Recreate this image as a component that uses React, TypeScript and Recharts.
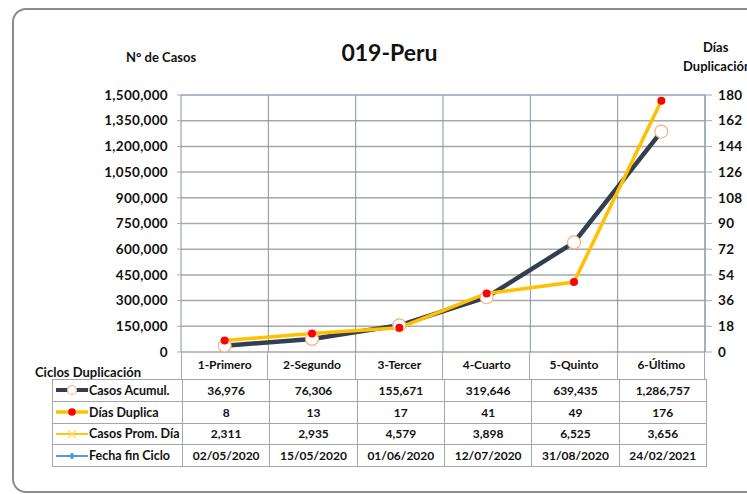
import React from 'react';
import { ComposedChart, Line, XAxis, YAxis, CartesianGrid, ReferenceLine } from 'recharts';

const categories = ['1-Primero', '2-Segundo', '3-Tercer', '4-Cuarto', '5-Quinto', '6-Último'];
const casosAcumul = [36976, 76306, 155671, 319646, 639435, 1286757];
const diasDuplica = [8, 13, 17, 41, 49, 176];
const casosPromDia = [2311, 2935, 4579, 3898, 6525, 3656];
const fechaFinCiclo = ['02/05/2020', '15/05/2020', '01/06/2020', '12/07/2020', '31/08/2020', '24/02/2021'];
const leftTicks = [0, 150000, 300000, 450000, 600000, 750000, 900000, 1050000, 1200000, 1350000, 1500000];
const rightTicks = [0, 18, 36, 54, 72, 90, 108, 126, 144, 162, 180];

const data = categories.map((c, i) => ({ cat: c, casos: casosAcumul[i], dias: diasDuplica[i] }));

const FONT = 'Lato, Carlito, Calibri, "Open Sans", sans-serif';
const fmt = (v: number) => v.toLocaleString('en-US');

const tickStyle = { fill: '#111', fontSize: 12, fontWeight: 700, fontFamily: FONT };
const axisTickStyle = { fill: '#111', fontSize: 13.5, fontWeight: 700, fontFamily: FONT, letterSpacing: 0.3 };

const KeyCasos = () => (
  <svg width={34} height={12}>
    <line x1={1} y1={6} x2={33} y2={6} stroke="#333f50" strokeWidth={4} />
    <circle cx={17} cy={6} r={4.5} fill="#fff" stroke="#f4b183" strokeWidth={1.2} />
  </svg>
);
const KeyDias = () => (
  <svg width={34} height={12}>
    <line x1={1} y1={6} x2={33} y2={6} stroke="#ffc000" strokeWidth={3.5} />
    <circle cx={17} cy={6} r={3.8} fill="#ff0000" />
  </svg>
);
const KeyProm = () => (
  <svg width={34} height={12}>
    <line x1={1} y1={6} x2={33} y2={6} stroke="#ffc000" strokeWidth={1.8} />
    <line x1={13} y1={2} x2={21} y2={10} stroke="#ffd966" strokeWidth={1.2} />
    <line x1={13} y1={10} x2={21} y2={2} stroke="#ffd966" strokeWidth={1.2} />
  </svg>
);
const KeyFecha = () => (
  <svg width={34} height={12}>
    <line x1={1} y1={6} x2={33} y2={6} stroke="#5b9bd5" strokeWidth={2} />
    <polygon points="17,2.5 20.5,6 17,9.5 13.5,6" fill="#5b9bd5" />
  </svg>
);

const rows: { key: React.ReactNode; label: string; values: string[] }[] = [
  { key: <KeyCasos />, label: 'Casos Acumul.', values: casosAcumul.map(fmt) },
  { key: <KeyDias />, label: 'Días Duplica', values: diasDuplica.map(fmt) },
  { key: <KeyProm />, label: 'Casos Prom. Día', values: casosPromDia.map(fmt) },
  { key: <KeyFecha />, label: 'Fecha fin Ciclo', values: fechaFinCiclo },
];

const BORDER = '1px solid #a6a6a6';

export default function App() {
  const colW = 524 / 6;
  return (
    <div style={{ position: 'absolute', left: 0, top: 0, width: 747, height: 494, overflow: 'hidden', background: '#fff', fontFamily: FONT }}>
      <div style={{ position: 'absolute', left: 12, top: 8, width: 800, height: 485, border: '2px solid #8c8c8c', borderRadius: 14, boxSizing: 'border-box' }} />
      <div style={{ position: 'absolute', left: 0, top: 0 }}>
        <ComposedChart width={747} height={494} data={data} margin={{ top: 95, right: 0, bottom: 115, left: 0 }}>
          <CartesianGrid
            yAxisId="left"
            horizontal={true}
            vertical={false}
            stroke="#a9a9a9"
            strokeWidth={1.5}
          />
          <CartesianGrid
            yAxisId="left"
            horizontal={false}
            vertical={true}
            stroke="#8793a8"
            strokeWidth={1}
            verticalCoordinatesGenerator={({ offset }: any) =>
              categories.map((_, i) => offset.left + (i * offset.width) / categories.length).concat([offset.left + offset.width])
            }
          />
          <XAxis
            dataKey="cat"
            scale="band"
            height={27}
            axisLine={false}
            tickLine={false}
            tickSize={0}
            tickMargin={8}
            tick={tickStyle}
            interval={0}
          />
          <YAxis
            yAxisId="left"
            width={181}
            domain={[0, 1500000]}
            ticks={leftTicks}
            tickFormatter={fmt}
            axisLine={false}
            tickLine={{ stroke: '#a9a9a9' }}
            tickSize={4}
            tickMargin={9}
            tick={axisTickStyle}
            interval={0}
          />
          <YAxis
            yAxisId="right"
            orientation="right"
            width={42}
            domain={[0, 180]}
            ticks={rightTicks}
            axisLine={{ stroke: '#8497b0' }}
            tickLine={{ stroke: '#a9a9a9' }}
            tickSize={7}
            tickMargin={6}
            tick={{ ...axisTickStyle, textAnchor: 'start' }}
            interval={0}
          />
          <ReferenceLine yAxisId="left" y={1500000} stroke="#95b3d7" strokeWidth={1.2} />
          <Line
            yAxisId="left"
            dataKey="casos"
            stroke="#333f50"
            strokeWidth={4.5}
            dot={{ r: 6.5, fill: '#fff', stroke: '#f4b183', strokeWidth: 1.2 }}
            isAnimationActive={false}
          />
          <Line
            yAxisId="right"
            dataKey="dias"
            stroke="#ffc000"
            strokeWidth={3.5}
            dot={{ r: 4, fill: '#ff0000', stroke: 'none' }}
            isAnimationActive={false}
          />
        </ComposedChart>
      </div>

      <div style={{ position: 'absolute', left: 0, top: 39, width: 779, textAlign: 'center', fontSize: 23, fontWeight: 700, color: '#111', lineHeight: '26px' }}>019-Peru</div>
      <div style={{ position: 'absolute', left: 126, top: 49, fontSize: 13, fontWeight: 700, color: '#111', lineHeight: '16px', whiteSpace: 'nowrap' }}>N° de Casos</div>
      <div style={{ position: 'absolute', left: 703, top: 39, fontSize: 13, fontWeight: 700, color: '#111', lineHeight: '16px', whiteSpace: 'nowrap' }}>Días</div>
      <div style={{ position: 'absolute', left: 683, top: 58, fontSize: 13, fontWeight: 700, color: '#111', lineHeight: '16px', whiteSpace: 'nowrap' }}>Duplicación</div>
      <div style={{ position: 'absolute', left: 35, top: 364, fontSize: 13, fontWeight: 700, color: '#111', lineHeight: '16px', whiteSpace: 'nowrap' }}>Ciclos Duplicación</div>

      <div style={{ position: 'absolute', left: 181, top: 352, width: 524, height: 27, display: 'flex' }}>
        {categories.map((c, i) => (
          <div key={c} style={{ width: colW, height: 27, boxSizing: 'border-box', borderLeft: i === 0 ? BORDER : 'none', borderRight: BORDER }} />
        ))}
      </div>

      <table style={{ position: 'absolute', left: 52, top: 379, borderCollapse: 'collapse', tableLayout: 'fixed', width: 654, fontSize: 12, fontWeight: 700, color: '#111' }}>
        <colgroup>
          <col style={{ width: 130 }} />
          {categories.map((c) => (
            <col key={c} style={{ width: colW }} />
          ))}
        </colgroup>
        <tbody>
          {rows.map((r) => (
            <tr key={r.label} style={{ height: 21.75 }}>
              <td style={{ border: BORDER, padding: 0, whiteSpace: 'nowrap', height: 20.75 }}>
                <div style={{ display: 'flex', alignItems: 'center', paddingLeft: 2, fontSize: 12.5 }}>
                  {r.key}
                  <span style={{ marginLeft: 0 }}>{r.label}</span>
                </div>
              </td>
              {r.values.map((v, i) => (
                <td key={i} style={{ border: BORDER, padding: 0, textAlign: 'center', whiteSpace: 'nowrap', height: 20.75 }}>
                  {v}
                </td>
              ))}
            </tr>
          ))}
        </tbody>
      </table>
    </div>
  );
}
